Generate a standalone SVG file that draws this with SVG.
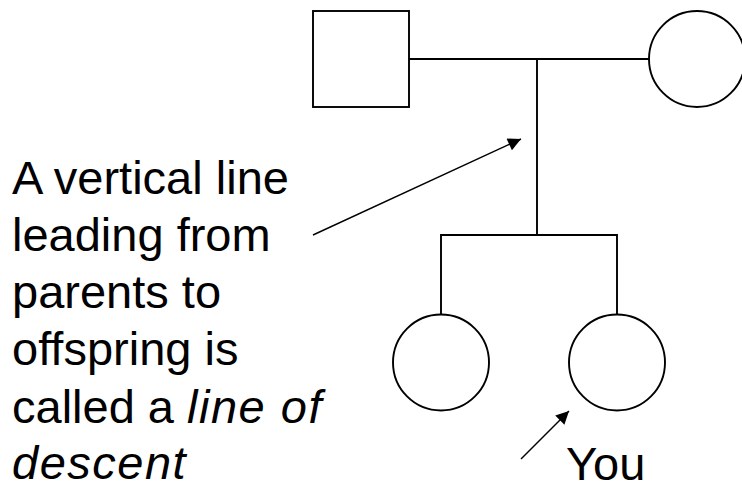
<svg xmlns="http://www.w3.org/2000/svg" width="742" height="486" viewBox="0 0 742 486">
<defs>
<style>
.shape{fill:#fff;stroke:#000;stroke-width:1.9}
.conn{fill:none;stroke:#000;stroke-width:1.9}
.ptr{fill:none;stroke:#000;stroke-width:1.4}
.txt{font-family:"Liberation Sans",Arial,sans-serif;font-size:47px;fill:#000}
.it{font-style:italic;letter-spacing:1.5px}
</style>
<marker id="ah" viewBox="0 0 10 10" refX="10" refY="5" markerWidth="14" markerHeight="13" markerUnits="userSpaceOnUse" orient="auto">
<path d="M0,0 L10,5 L0,10 z" fill="#000"/>
</marker>
</defs>
<g id="connectors">
<line class="conn" x1="409" y1="59" x2="649" y2="59"/>
<line class="conn" x1="537" y1="59" x2="537" y2="235"/>
<polyline class="conn" points="441,314 441,235 617,235 617,314"/>
<line class="ptr" x1="313" y1="235" x2="521" y2="139" marker-end="url(#ah)"/>
<line class="ptr" x1="521" y1="459" x2="569" y2="411" marker-end="url(#ah)"/>
</g>
<g id="father"><rect class="shape" x="313" y="11" width="96" height="96"/></g>
<g id="mother"><circle class="shape" cx="697" cy="59" r="48"/></g>
<g id="sibling"><circle class="shape" cx="441" cy="362.5" r="48"/></g>
<g id="you"><circle class="shape" cx="617" cy="362.5" r="48"/></g>
<g id="label-you"><text class="txt" x="566" y="480">You</text></g>
<g id="label-descent">
<text class="txt" x="12" y="193.5">A vertical line</text>
<text class="txt" x="12" y="250.5">leading from</text>
<text class="txt" x="12" y="308">parents to</text>
<text class="txt" x="12" y="365">offspring is</text>
<text class="txt" x="12" y="423">called a <tspan class="it">line of</tspan></text>
<text class="txt it" x="12" y="479">descent</text>
</g>
</svg>
